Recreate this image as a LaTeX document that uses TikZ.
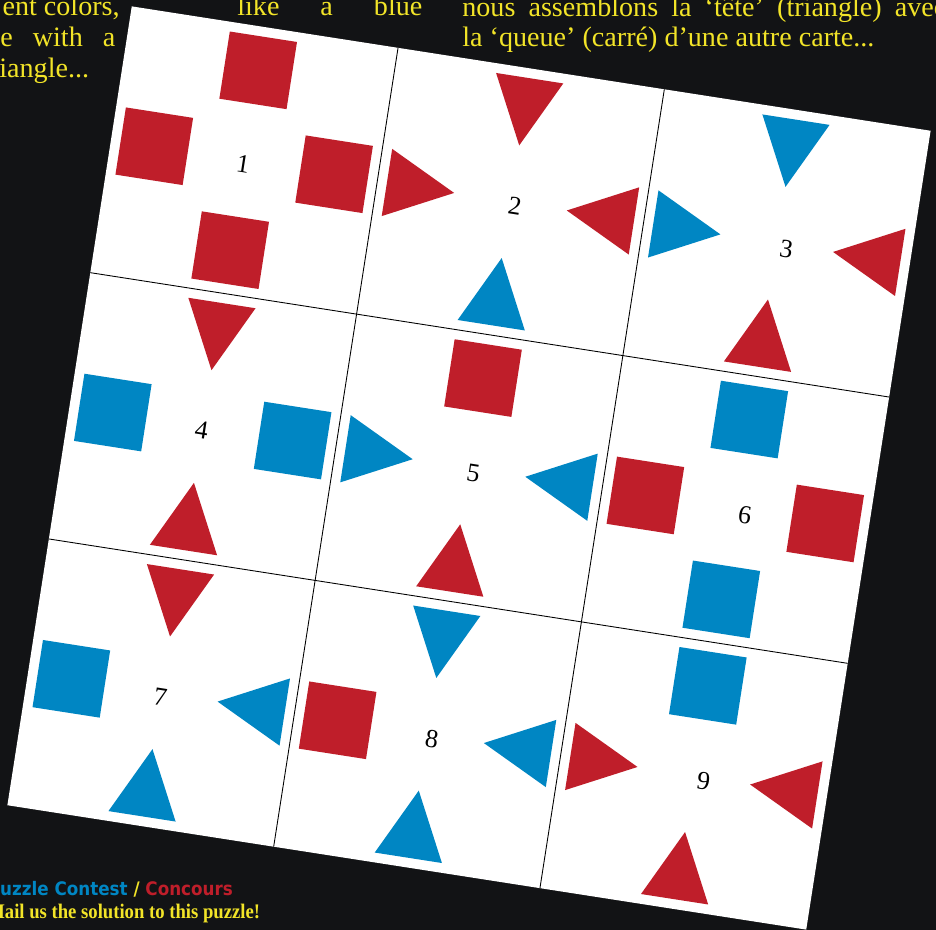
\documentclass[tikz,border=0pt]{standalone}
\usepackage{fontspec}
\setmainfont{Liberation Serif}
\newfontfamily\contestfont[FakeStretch=0.9]{DejaVu Sans}
\newfontfamily\mailfont[FakeStretch=0.9]{Liberation Serif}
\usetikzlibrary{calc}

\definecolor{boardbg}{RGB}{18,19,21}
\definecolor{textyellow}{RGB}{242,228,40}
\definecolor{cardred}{RGB}{191,30,42}
\definecolor{cardblue}{RGB}{0,134,195}

\begin{document}
\begin{tikzpicture}[
  pagetext/.style={text=textyellow, inner sep=0pt, font=\fontsize{16}{17}\selectfont},
  cardnum/.style={inner sep=0pt, transform shape, font=\fontsize{14.8}{17}\selectfont},
  gridline/.style={line width=0.5pt, black},
  redsq/.pic={\fill[cardred] (-0.68,-0.68) rectangle (0.68,0.68);},
  bluesq/.pic={\fill[cardblue] (-0.68,-0.68) rectangle (0.68,0.68);},
  redtri/.pic={\fill[cardred] (-0.68,0.68) -- (0.68,0.68) -- (0,-0.68) -- cycle;},
  bluetri/.pic={\fill[cardblue] (-0.68,0.68) -- (0.68,0.68) -- (0,-0.68) -- cycle;}
]
\useasboundingbox (0,0) rectangle (18.72,-18.6);
\fill[boardbg] (0,0) rectangle (18.72,-18.6);

% text of the page, partly hidden by the cards
\node[pagetext, anchor=base east] (introA) at (2.40,-0.31) {ent colors,};
\node[pagetext, anchor=base west] (introB) at (0,-0.94) {\makebox[2.30cm][s]{e with a}};
\node[pagetext, anchor=base west] (introC) at (-0.02,-1.56) {iangle...};
\node[pagetext, anchor=base west] (middle) at (4.74,-0.31) {\makebox[3.70cm][s]{like a blue}};
\node[pagetext, anchor=base west] (frenchA) at (9.24,-0.33) {\makebox[9.68cm][s]{nous assemblons la ‘tête’ (triangle) avec}};
\node[pagetext, anchor=base west] (frenchB) at (9.24,-0.94) {la ‘queue’ (carré) d’une autre carte...};

\node[inner sep=0pt, anchor=base west, font=\contestfont\bfseries\fontsize{10.6}{12}\selectfont] (contest) at (-0.25,-17.92)
  {\textcolor{cardblue}{Puzzle Contest} \textcolor{textyellow}{/} \textcolor{cardred}{Concours}};
\node[inner sep=0pt, anchor=base west, text=textyellow, font=\mailfont\bfseries\fontsize{11.8}{13}\selectfont] (mailus) at (-0.26,-18.37)
  {Mail us the solution to this puzzle!};

% the nine cards
\begin{scope}[shift={(9.38,-9.36)}, rotate=-8.85]
  \fill[white] (-8.085,-8.085) rectangle (8.085,8.085);
  \foreach \k in {-1,1}{
    \draw[gridline] (\k*2.695,-8.085) -- (\k*2.695,8.085);
    \draw[gridline] (-8.085,\k*2.695) -- (8.085,\k*2.695);
  }
  \foreach \cx/\cy/\n/\shpT/\shpL/\shpB/\shpR in {
      -5.39/5.39/1/redsq/redsq/redsq/redsq,
      0/5.39/2/redtri/redtri/bluetri/redtri,
      5.39/5.39/3/bluetri/bluetri/redtri/redtri,
      -5.39/0/4/redtri/bluesq/redtri/bluesq,
      0/0/5/redsq/bluetri/redtri/bluetri,
      5.39/0/6/bluesq/redsq/bluesq/redsq,
      -5.39/-5.39/7/redtri/bluesq/bluetri/bluetri,
      0/-5.39/8/bluetri/redsq/bluetri/bluetri,
      5.39/-5.39/9/bluesq/redtri/redtri/redtri}{
    \node[cardnum] (num\n) at (\cx*1.02+0.1,\cy-0.08) {\n};
    \foreach \ang/\shp in {0/\shpT,90/\shpL,180/\shpB,270/\shpR}
      \pic[transform shape, rotate=\ang] at ($(\cx,\cy)+(\ang+90:1.82)$) {\shp};
  }
\end{scope}

\end{tikzpicture}
\end{document}
